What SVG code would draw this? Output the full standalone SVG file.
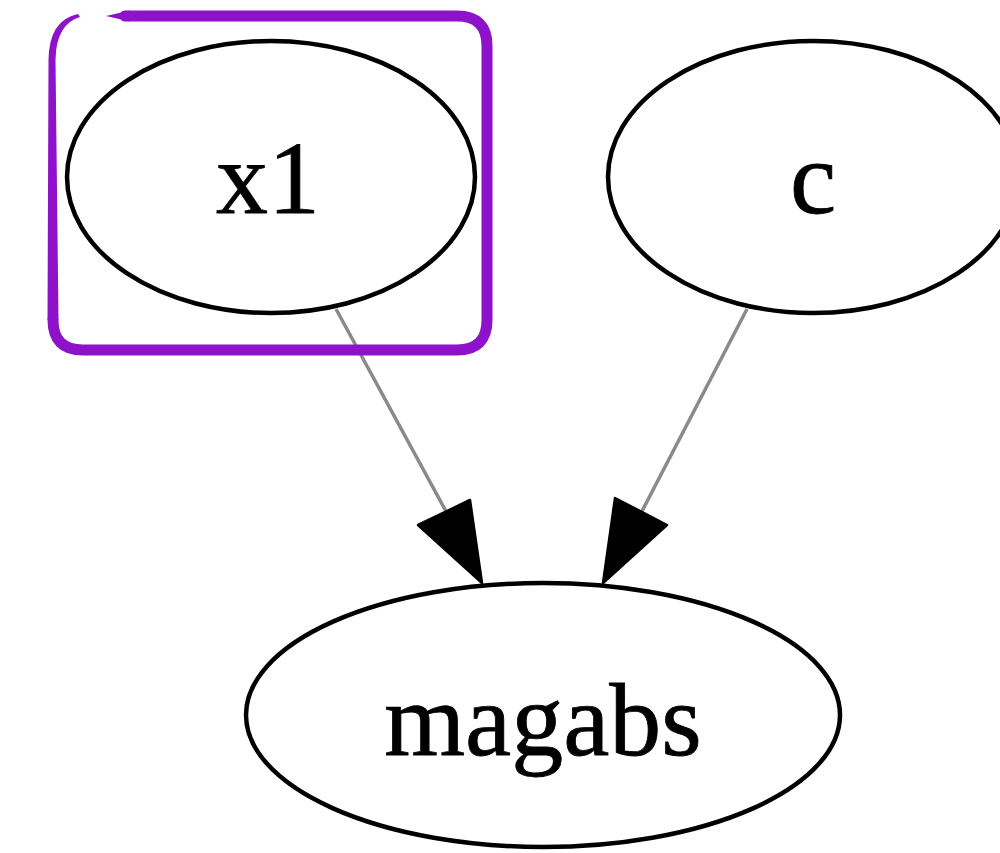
<svg xmlns="http://www.w3.org/2000/svg" width="1000" height="853" viewBox="0 0 1000 853">
<style>
.node ellipse{fill:#fff;stroke:#000;stroke-width:4.5}
.node text{font-family:"Liberation Serif","Times New Roman",serif;font-size:104px;fill:#000;text-anchor:middle;stroke:#000;stroke-width:0.8}
.edge line{stroke:#8a8a8a;stroke-width:3.5}
.edge polygon{fill:#000;stroke:#000;stroke-width:2.5;stroke-linejoin:round}
.hl{fill:none;stroke:#8e12c9;stroke-linecap:round;stroke-linejoin:round}
</style>
<rect x="0" y="0" width="1000" height="853" fill="#fff"/>
<g id="edges" class="edge">
<line x1="336" y1="309" x2="448" y2="515"/>
<polygon points="482,583 418,525 470,500"/>
<line x1="747" y1="309" x2="640" y2="515"/>
<polygon points="603,583 615,498 667,525"/>
</g>
<g id="node-x1" class="node">
<ellipse cx="271" cy="177" rx="204" ry="136"/>
<text x="268" y="213">x1</text>
</g>
<g id="node-c" class="node">
<ellipse cx="813" cy="177" rx="205" ry="136"/>
<text x="813" y="213">c</text>
</g>
<g id="node-magabs" class="node">
<ellipse cx="543" cy="715" rx="297" ry="132"/>
<text x="543" y="755">magabs</text>
</g>
<g id="highlight">
<path class="hl" stroke-width="11" d="M125,16 H457 Q487,16 487,46 V320 Q487,350 457,350 H83 Q53,350 53,320"/>
<path d="M47.5,320 L48.5,60 Q49,20 78,14 L80,17 Q56,24 55.5,60 L58.5,320 Z" fill="#8e12c9"/>
<polygon points="106,16 130,10.5 130,21.5" fill="#8e12c9"/>
</g>
</svg>
